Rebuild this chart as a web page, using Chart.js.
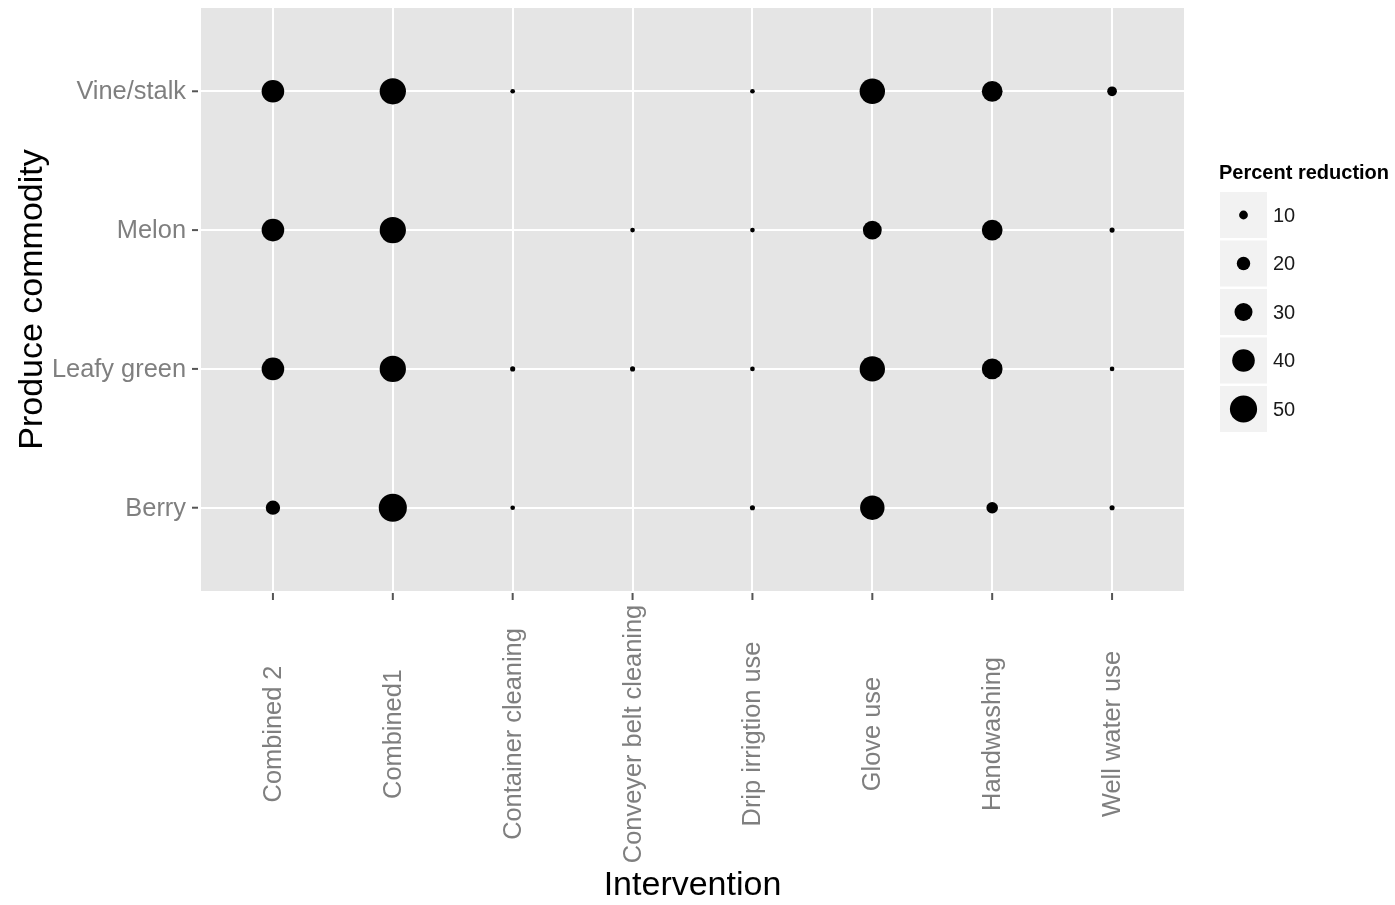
<!DOCTYPE html>
<html>
<head>
<meta charset="utf-8">
<script src="https://cdn.jsdelivr.net/npm/chart.js@4/dist/chart.umd.min.js"></script>
<style>
  body { margin: 0; background: #fff; }
  #wrap { width: 1395px; height: 905px; }
</style>
</head>
<body>
<div id="wrap"><canvas id="chart" width="1395" height="905"></canvas></div>
<script>
// categories
const interventions = ["Combined 2", "Combined1", "Container cleaning", "Conveyer belt cleaning",
  "Drip irrigtion use", "Glove use", "Handwashing", "Well water use"];
const commodities = ["Berry", "Leafy green", "Melon", "Vine/stalk"]; // bottom to top

// percent reduction per commodity, in intervention order (null = no point)
const berry      = [22, 52, 1, null, 2, 44, 16, 2];
const leafyGreen = [40, 48, 2, 2, 1, 46, 36, 1];
const melon      = [40, 48, null, 1, 1, 32, 36, 2];
const vineStalk  = [40, 48, 1, null, 1, 46, 36, 12];

const legendValues = [10, 20, 30, 40, 50];

const FONT = "'Liberation Sans', Arial, Helvetica, sans-serif";
const sizeOf = (v) => 2.1 + 0.23 * v; // radius in px, roughly like ggplot's size scale

const rows = [berry, leafyGreen, melon, vineStalk];
const points = [];
rows.forEach((row, yi) => {
  row.forEach((v, xi) => {
    if (v === null) return;
    points.push({ x: xi + 1, y: yi + 1, r: sizeOf(v), v });
  });
});

// panel background, axis ticks/labels/titles and size legend
const ggDecor = {
  id: "ggDecor",
  beforeDraw(chart) {
    const { ctx, chartArea: a } = chart;
    ctx.save();
    ctx.fillStyle = "#E5E5E5";
    ctx.fillRect(a.left, a.top, a.right - a.left, a.bottom - a.top);
    ctx.restore();
  },
  afterDraw(chart) {
    const { ctx, chartArea: a, scales } = chart;
    const xs = scales.x, ys = scales.y;
    ctx.save();

    // tick marks
    ctx.strokeStyle = "#555";
    ctx.lineWidth = 2;
    interventions.forEach((_, i) => {
      const px = xs.getPixelForValue(i + 1);
      ctx.beginPath(); ctx.moveTo(px, a.bottom + 2); ctx.lineTo(px, a.bottom + 9); ctx.stroke();
    });
    commodities.forEach((_, i) => {
      const py = ys.getPixelForValue(i + 1);
      ctx.beginPath(); ctx.moveTo(a.left - 9, py); ctx.lineTo(a.left - 3, py); ctx.stroke();
    });

    // tick labels
    ctx.fillStyle = "#7F7F7F";
    ctx.font = "25.4px " + FONT;
    ctx.textAlign = "right";
    ctx.textBaseline = "middle";
    commodities.forEach((c, i) => {
      ctx.fillText(c, a.left - 15, ys.getPixelForValue(i + 1) + 1);
    });
    interventions.forEach((t, i) => {
      ctx.save();
      ctx.translate(xs.getPixelForValue(i + 1) + 1, 734);
      ctx.rotate(-Math.PI / 2);
      ctx.textAlign = "center";
      ctx.fillText(t, 0, 0);
      ctx.restore();
    });

    // axis titles
    ctx.fillStyle = "#000";
    ctx.font = "34px " + FONT;
    ctx.textAlign = "center";
    ctx.fillText("Intervention", (a.left + a.right) / 2, 886);
    ctx.save();
    ctx.translate(33, (a.top + a.bottom) / 2);
    ctx.rotate(-Math.PI / 2);
    ctx.fillText("Produce commodity", 0, 0);
    ctx.restore();

    // legend
    ctx.font = "bold 20px " + FONT;
    ctx.textAlign = "left";
    ctx.fillStyle = "#000";
    ctx.fillText("Percent reduction", 1219, 173);
    legendValues.forEach((v, i) => {
      const top = 192 + i * 48.5;
      ctx.fillStyle = "#F2F2F2";
      ctx.fillRect(1220, top, 47, 46);
      ctx.fillStyle = "#000";
      ctx.beginPath();
      ctx.arc(1243.5, top + 23, sizeOf(v), 0, Math.PI * 2);
      ctx.fill();
      ctx.fillStyle = "#1A1A1A";
      ctx.font = "20px " + FONT;
      ctx.fillText(String(v), 1273, top + 24);
    });
    ctx.restore();
  },
};

const ctx = document.getElementById("chart").getContext("2d");
new Chart(ctx, {
  type: "bubble",
  data: {
    datasets: [{
      label: "Percent reduction",
      data: points,
      backgroundColor: "#000",
      borderWidth: 0,
      hoverRadius: 0,
    }],
  },
  options: {
    responsive: false,
    animation: false,
    events: [],
    layout: { autoPadding: false, padding: { left: 201, right: 211, top: 8, bottom: 314 } },
    plugins: { legend: { display: false }, tooltip: { enabled: false } },
    scales: {
      x: {
        type: "linear",
        min: 0.4,
        max: 8.6,
        afterBuildTicks: (s) => { s.ticks = interventions.map((_, i) => ({ value: i + 1 })); },
        ticks: { display: false },
        grid: { color: "#FFFFFF", lineWidth: 2, drawTicks: false },
        border: { display: false },
      },
      y: {
        type: "linear",
        min: 0.4,
        max: 4.6,
        afterBuildTicks: (s) => { s.ticks = commodities.map((_, i) => ({ value: i + 1 })); },
        ticks: { display: false },
        grid: { color: "#FFFFFF", lineWidth: 2, drawTicks: false },
        border: { display: false },
      },
    },
  },
  plugins: [ggDecor],
});
</script>
</body>
</html>
